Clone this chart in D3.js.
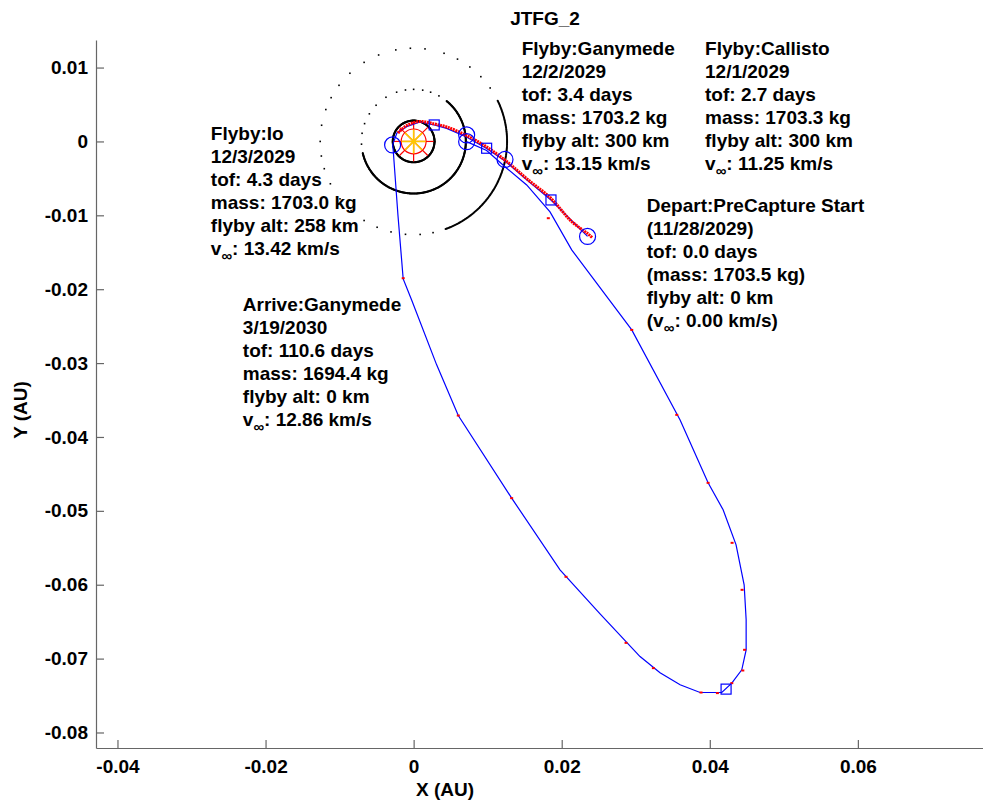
<!DOCTYPE html>
<html>
<head>
<meta charset="utf-8">
<script src="https://cdn.jsdelivr.net/npm/d3@7"></script>
<style>
  body { margin: 0; background: #fff; }
  svg  { display: block; font-family: "Liberation Sans", Arial, sans-serif; font-weight: bold; }
</style>
</head>
<body>
<svg id="chart" width="983" height="803"></svg>
<script>
// ---- data (AU, Jupiter-centred) ----
const xTicks = [-0.04, -0.02, 0, 0.02, 0.04, 0.06];
const yTicks = [0.01, 0, -0.01, -0.02, -0.03, -0.04, -0.05, -0.06, -0.07, -0.08];

// inbound leg: PreCapture start -> Callisto -> Ganymede -> Io
const inboundLeg = [
  [0.02349, -0.01286], [0.01855, -0.00792], [0.01531, -0.00521], [0.01234, -0.00264],
  [0.00986, -0.00095], [0.00714, 0.00061], [0.00446, 0.00176], [0.00278, 0.00223],
  [0.00085, 0.00264], [-0.00095, 0.00200], [-0.00226, 0.00115], [-0.00284, -0.00047]
];

// long loop: Io -> apojove -> Ganymede arrival
const captureLoop = [
  [-0.00284, -0.00047], [-0.00276, -0.00115], [-0.00212, -0.00995], [-0.00141, -0.01861],
  [-0.00027, -0.02145], [0.00311, -0.03024], [0.00603, -0.03710], [0.01324, -0.04828],
  [0.01977, -0.05798], [0.02518, -0.06394], [0.03058, -0.06972], [0.03328, -0.07192],
  [0.03599, -0.07355], [0.03869, -0.07459], [0.04162, -0.07459], [0.04297, -0.07332],
  [0.04432, -0.07152], [0.04491, -0.06881], [0.04491, -0.06475], [0.04464, -0.06001],
  [0.04355, -0.05460], [0.04180, -0.04986], [0.03977, -0.04621], [0.03599, -0.03769],
  [0.02946, -0.02551], [0.02135, -0.01468], [0.01842, -0.00954], [0.01527, -0.00589],
  [0.01257, -0.00363], [0.00986, -0.00122], [0.00716, -0.00003]
];

// propagated (red) inbound path
const propagated = [
  [0.02410, -0.01300], [0.02355, -0.01252], [0.02126, -0.01076], [0.01855, -0.00771],
  [0.01531, -0.00507], [0.01257, -0.00271], [0.00986, -0.00074], [0.00714, 0.00081],
  [0.00446, 0.00196], [0.00278, 0.00237], [0.00085, 0.00271], [-0.00091, 0.00217],
  [-0.00212, 0.00115]
];

// red time ticks along the loop
const timeTicks = [
  [-0.00141, -0.01851], [0.00603, -0.03710], [0.01324, -0.04828], [0.02058, -0.05893],
  [0.02869, -0.06787], [0.03238, -0.07129], [0.03882, -0.07459], [0.04103, -0.07467],
  [0.04297, -0.07332], [0.04446, -0.07161], [0.04470, -0.06881], [0.04436, -0.06069],
  [0.04301, -0.05433], [0.03977, -0.04621], [0.03554, -0.03701], [0.02946, -0.02551],
  [0.01819, -0.01039]
];

// encounter circles and match-point squares
const encounters = [
  [0.02349, -0.01286], [0.01234, -0.00244], [0.00716, 0.00088], [0.00716, -0.00003], [-0.00284, -0.00047]
];
const matchPoints = [
  [0.00278, 0.00223], [0.00986, -0.00092], [0.01855, -0.00792], [0.04220, -0.07413]
];

// moon orbits: radius (AU), dense arc (deg), sparse sample angles (deg)
const moonRadii   = { Io: 0.00282, Ganymede: 0.00705, Callisto: 0.01262 };
const denseArcs   = { Io: [0, 360], Ganymede: [-167, 51], Callisto: [-70, 26] };
const sparseGany  = [61, 71, 80, 90, 99, 109, 122, 136, 148, 160, 171, 183];
const sparseCalli = [35, 44, 53, 62, 71, 83, 92, 101, 112, 122, 133, 143, 152, 160,
                     170, 180, 189, 197, 207, 218, 228, 238, 247, 256, 265, 274, 282];

// Jupiter marker
const jupiterRing = 0.00168;
const spokeRed    = 0.0027;
const spokeYellow = 0.00165;

// annotations: anchor (AU) and lines
const notes = [
  { at: [-0.02739, 0.00020], lines: ["Flyby:Io", "12/3/2029", "tof: 4.3 days", "mass: 1703.0 kg", "flyby alt: 258 km", "v∞: 13.42 km/s"] },
  { at: [0.01459, 0.01171], lines: ["Flyby:Ganymede", "12/2/2029", "tof: 3.4 days", "mass: 1703.2 kg", "flyby alt: 300 km", "v∞: 13.15 km/s"] },
  { at: [0.03936, 0.01171], lines: ["Flyby:Callisto", "12/1/2029", "tof: 2.7 days", "mass: 1703.3 kg", "flyby alt: 300 km", "v∞: 11.25 km/s"] },
  { at: [0.03149, -0.00950], lines: ["Depart:PreCapture Start", "(11/28/2029)", "tof: 0.0 days", "(mass: 1703.5 kg)", "flyby alt: 0 km", "(v∞: 0.00 km/s)"] },
  { at: [-0.02307, -0.02300], lines: ["Arrive:Ganymede", "3/19/2030", "tof: 110.6 days", "mass: 1694.4 kg", "flyby alt: 0 km", "v∞: 12.86 km/s"] }
];

// ---- scales ----
const svg = d3.select("#chart");
const x = d3.scaleLinear().domain([-0.0429, 0.0769]).range([96, 983]);
const y = d3.scaleLinear().domain([-0.0821, 0.01373]).range([748, 40]);
const rpx = r => x(r) - x(0);

// 1) Axes (MATLAB style, inward ticks, no box)
const fmt = d => d === 0 ? "0" : String(d);
const gx = svg.append("g").attr("transform", "translate(0,748)")
  .call(d3.axisBottom(x).tickValues(xTicks).tickFormat(fmt).tickSizeInner(-8).tickSizeOuter(0).tickPadding(12));
const gy = svg.append("g").attr("transform", "translate(96,0)")
  .call(d3.axisLeft(y).tickValues(yTicks).tickFormat(fmt).tickSizeInner(-8).tickSizeOuter(0).tickPadding(8));
[gx, gy].forEach(g => {
  g.selectAll("path.domain, line").attr("stroke", "#666").attr("stroke-width", 1.2);
  g.selectAll("text").attr("fill", "#000").style("font-size", "19px").style("font-family", null);
});

// 2) Moon orbits
const orbitG = svg.append("g").attr("fill", "#000");
Object.keys(moonRadii).forEach(name => {
  const r = moonRadii[name], [a0, a1] = denseArcs[name];
  const step = name === "Io" ? 1.5 : 0.7;
  for (let a = a0; a <= a1; a += step) {
    const t = a * Math.PI / 180;
    orbitG.append("circle").attr("cx", x(r * Math.cos(t))).attr("cy", y(r * Math.sin(t))).attr("r", 1.05);
  }
});
[[moonRadii.Ganymede, sparseGany], [moonRadii.Callisto, sparseCalli]].forEach(([r, angs]) => {
  orbitG.selectAll(null).data(angs).enter().append("rect")
    .attr("x", a => x(r * Math.cos(a * Math.PI / 180)) - 0.8)
    .attr("y", a => y(r * Math.sin(a * Math.PI / 180)) - 0.8)
    .attr("width", 1.6).attr("height", 1.6);
});

// 3) Jupiter
const jg = svg.append("g");
const spokes = d3.range(0, 360, 45);
jg.selectAll("line.red").data(spokes).enter().append("line")
  .attr("x1", x(0)).attr("y1", y(0))
  .attr("x2", a => x(spokeRed * Math.cos(a * Math.PI / 180)))
  .attr("y2", a => y(spokeRed * Math.sin(a * Math.PI / 180)))
  .attr("stroke", "#f00").attr("stroke-width", 1.2);
jg.append("circle").attr("cx", x(0)).attr("cy", y(0)).attr("r", rpx(jupiterRing))
  .attr("fill", "none").attr("stroke", "#f00").attr("stroke-width", 1.2);
jg.selectAll("line.yel").data(spokes).enter().append("line")
  .attr("x1", x(0)).attr("y1", y(0))
  .attr("x2", a => x(spokeYellow * Math.cos(a * Math.PI / 180)))
  .attr("y2", a => y(spokeYellow * Math.sin(a * Math.PI / 180)))
  .attr("stroke", "#ffc800").attr("stroke-width", 1.6);

// 4) Trajectory
const line = d3.line().x(d => x(d[0])).y(d => y(d[1]));
svg.append("path").datum(inboundLeg).attr("d", line)
  .attr("fill", "none").attr("stroke", "#0000ff").attr("stroke-width", 1.2);
svg.append("path").datum(captureLoop).attr("d", line)
  .attr("fill", "none").attr("stroke", "#0000ff").attr("stroke-width", 1.2);
svg.append("path").datum(propagated).attr("d", d3.line().curve(d3.curveCatmullRom).x(d => x(d[0])).y(d => y(d[1])))
  .attr("fill", "none").attr("stroke", "#f00").attr("stroke-width", 3).attr("stroke-dasharray", "2,0.7");
svg.selectAll("rect.tick").data(timeTicks).enter().append("rect")
  .attr("x", d => x(d[0]) - 1.5).attr("y", d => y(d[1]) - 1)
  .attr("width", 3).attr("height", 2).attr("fill", "#f00");

svg.selectAll("circle.enc").data(encounters).enter().append("circle")
  .attr("cx", d => x(d[0])).attr("cy", d => y(d[1])).attr("r", 8)
  .attr("fill", "none").attr("stroke", "#0000ff").attr("stroke-width", 1.2);
svg.selectAll("rect.mp").data(matchPoints).enter().append("rect")
  .attr("x", d => x(d[0]) - 5).attr("y", d => y(d[1]) - 5).attr("width", 10).attr("height", 10)
  .attr("fill", "none").attr("stroke", "#0000ff").attr("stroke-width", 1.2);

// 5) Annotations
notes.forEach(n => {
  const t = svg.append("text").attr("x", x(n.at[0])).attr("y", y(n.at[1])).style("font-size", "19px");
  n.lines.forEach((s, i) => {
    const ts = t.append("tspan").attr("x", x(n.at[0])).attr("dy", i === 0 ? 0 : 23);
    const k = s.indexOf("v∞");
    if (k < 0) { ts.text(s); return; }
    ts.text(s.slice(0, k) + "v");
    t.append("tspan").attr("dy", 6).style("font-size", "15px").text("∞");
    t.append("tspan").attr("dy", -6).text(s.slice(k + 2));
  });
});

// 6) Title & axis labels
svg.append("text").attr("x", 545).attr("y", 25).attr("text-anchor", "middle").style("font-size", "19px").text("JTFG_2");
svg.append("text").attr("x", 445).attr("y", 796).attr("text-anchor", "middle").style("font-size", "19px").text("X (AU)");
svg.append("text").attr("transform", "translate(27,410) rotate(-90)").attr("text-anchor", "middle").style("font-size", "19px").text("Y (AU)");
</script>
</body>
</html>
